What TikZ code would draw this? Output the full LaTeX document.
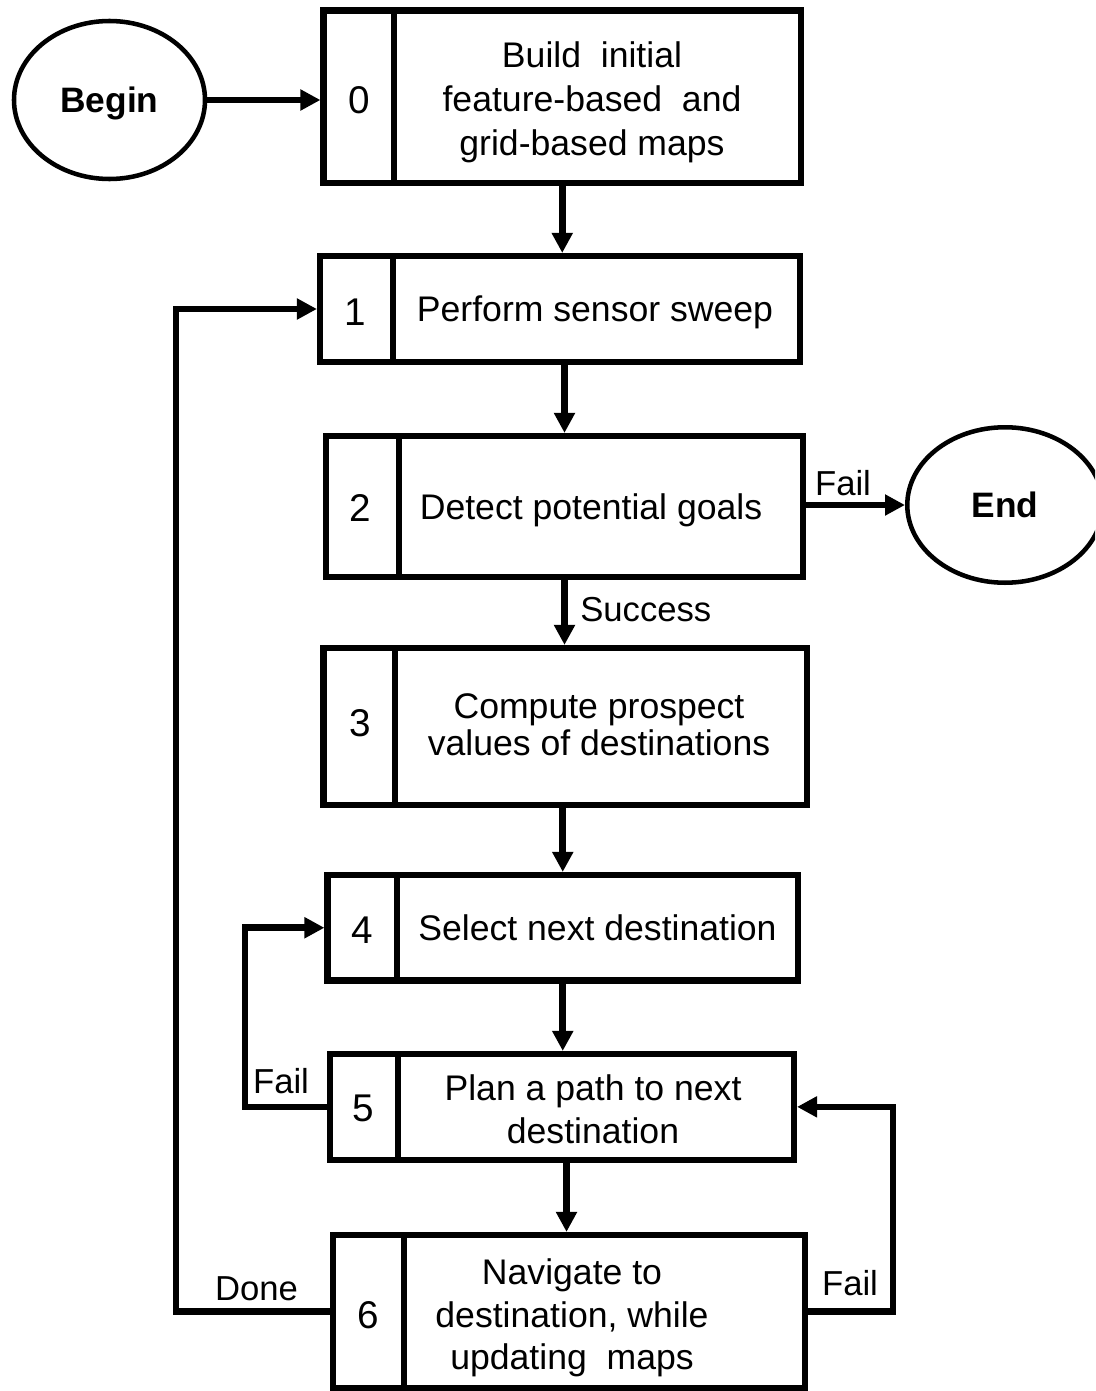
\documentclass[tikz,border=0pt]{standalone}
\usepackage{fontspec}
\setmainfont{Liberation Sans}
\usetikzlibrary{arrows.meta,shapes.geometric,fit}
\begin{document}
\begin{tikzpicture}[x=0.75pt,y=-0.75pt,
  stepbox/.style={draw,line width=4.6pt,inner sep=0pt},
  divider/.style={line width=4.6pt},
  oval/.style={ellipse,draw,line width=3.4pt,inner sep=0pt,text depth=0pt,
    font=\fontsize{26.5pt}{32pt}\selectfont\bfseries},
  txt/.style={font=\fontsize{26.7pt}{#1}\selectfont,inner sep=0pt,align=center},
  txt/.default=33pt,
  num/.style={font=\fontsize{29pt}{34pt}\selectfont,inner sep=0pt,anchor=base},
  lbl/.style={font=\fontsize{26pt}{31pt}\selectfont,inner sep=0pt,anchor=base},
  arr/.style={line width=5pt,-{Triangle[length=15pt,width=15pt]}},
]
\useasboundingbox (0,0) rectangle (1095,1391);
\fill[white] (0,0) rectangle (1095,1391);
\clip (0,0) rectangle (1095,1391);

% start and end ovals
\node[oval,minimum width=143.25pt,minimum height=118.5pt] (begin) at (109.5,100) {Begin};
\node[oval,minimum width=146.6pt,minimum height=116.6pt] (end) at (1005,505) {End};

% step 0
\node[stepbox,fit={(323.5,10.5) (801,183)}] (b0) {};
\draw[divider] (394,10.5) -- (394,183);
\node[num] (n0) at (359,113.3) {0};
\node[txt=33pt] (t0) at (592,102) {Build\ \ initial\\feature-based\ \ and\\grid-based maps};

% step 1
\node[stepbox,fit={(320,256) (800,362)}] (b1) {};
\draw[divider] (393,256) -- (393,362);
\node[num] (n1) at (355,325) {1};
\node[txt,anchor=base] (t1) at (595,321.7) {Perform sensor sweep};

% step 2
\node[stepbox,fit={(326,436) (803,577)}] (b2) {};
\draw[divider] (399,436) -- (399,577);
\node[num] (n2) at (360,521) {2};
\node[txt,anchor=base] (t2) at (591,519.3) {Detect potential goals};

% step 3
\node[stepbox,fit={(323.5,648) (807,805)}] (b3) {};
\draw[divider] (395,648) -- (395,805);
\node[num] (n3) at (360,736.7) {3};
\node[txt=28pt] (t3) at (599,725) {Compute prospect\\values of destinations};

% step 4
\node[stepbox,fit={(327.5,875) (798,980.5)}] (b4) {};
\draw[divider] (397,875) -- (397,980.5);
\node[num] (n4) at (362,943) {4};
\node[txt,anchor=base] (t4) at (597.5,940) {Select next destination};

% step 5
\node[stepbox,fit={(329.7,1054) (794,1159.7)}] (b5) {};
\draw[divider] (398,1054) -- (398,1159.7);
\node[num] (n5) at (363,1121.7) {5};
\node[txt=32pt] (t5) at (593,1109) {Plan a path to next\\destination};

% step 6
\node[stepbox,fit={(333,1235) (805,1388)}] (b6) {};
\draw[divider] (404,1235) -- (404,1388);
\node[num] (n6) at (368,1328.3) {6};
\node[txt=32pt] (t6) at (572,1318) {Navigate to\\destination, while\\updating\ \ maps};

% columns of the feedback loops
\coordinate (lf) at (245,0);
\coordinate (ld) at (176,0);
\coordinate (rf) at (893,0);

% main flow
\draw[arr] (begin.east) -- (begin.east -| b0.west);
\draw[arr] (b0.south) -- (b0.south |- b1.north);
\draw[arr] (b2.north |- b1.south) -- (b2.north);
\draw[arr] (b2.east |- end.west) -- (end.west);
\draw[arr] (b2.south) -- (b2.south |- b3.north);
\draw[arr] (b4.north |- b3.south) -- (b4.north);
\draw[arr] (b4.south) -- (b4.south |- b5.north);
\draw[arr] ([xshift=3.5pt]b5.south) -- ([xshift=3.5pt]b5.south |- b6.north);

% feedback loops
\draw[arr] (b5.west) -- (b5.west -| lf) |- (b4.west);
\draw[arr] (b6.west) -- (b6.west -| ld) |- (b1.west);
\draw[arr] (b6.east) -- (b6.east -| rf) |- (b5.east);

% connector labels
\node[lbl] (l1) at (843,495) {Fail};
\node[lbl,anchor=base west] (l2) at (580,621.7) {Success};
\node[lbl] (l3) at (281,1093.3) {Fail};
\node[lbl] (l4) at (256.5,1300) {Done};
\node[lbl] (l5) at (850,1295.7) {Fail};
\end{tikzpicture}
\end{document}
